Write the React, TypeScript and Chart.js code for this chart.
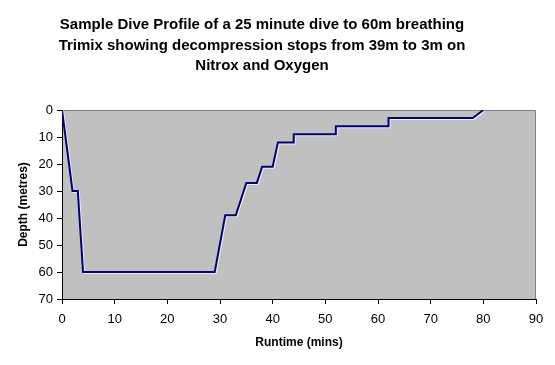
import React, { useEffect, useRef } from "react";
import { Chart, registerables } from "chart.js";

Chart.register(...registerables);

const runtimeMins = [0, 2, 3, 4, 29, 31, 33, 35, 37, 38, 40, 41, 44, 44, 52, 52, 62, 62, 78, 80];
const depthMetres = [0, 30, 30, 60, 60, 39, 39, 27, 27, 21, 21, 12, 12, 9, 9, 6, 6, 3, 3, 0];
const titleLines = [
  "Sample Dive Profile of a 25 minute dive to 60m breathing",
  "Trimix showing decompression stops from 39m to 3m on",
  "Nitrox and Oxygen",
];
const xAxisTitle = "Runtime (mins)";
const yAxisTitle = "Depth (metres)";

const FONT = "'Liberation Sans', Arial, sans-serif";

const plotBg = {
  id: "plotBg",
  beforeDraw(chart: any) {
    const { ctx, chartArea: a } = chart;
    ctx.save();
    ctx.fillStyle = "#C0C0C0";
    ctx.fillRect(a.left, a.top, a.right - a.left, a.bottom - a.top);
    ctx.strokeStyle = "#808080";
    ctx.lineWidth = 1;
    ctx.beginPath();
    ctx.moveTo(a.left, a.top + 0.5);
    ctx.lineTo(a.right - 0.5, a.top + 0.5);
    ctx.lineTo(a.right - 0.5, a.bottom);
    ctx.stroke();
    // title
    ctx.fillStyle = "#000";
    ctx.font = `bold 15px ${FONT}`;
    ctx.textAlign = "center";
    ctx.textBaseline = "middle";
    titleLines.forEach((line, i) => {
      ctx.fillText(line, 262, 25 + i * 20.5);
    });
    ctx.restore();
  },
};

const shadow = {
  id: "shadow",
  beforeDatasetDraw(chart: any) {
    const ctx = chart.ctx;
    ctx.save();
    ctx.shadowColor = "#F4F0D8";
    ctx.shadowOffsetX = 1;
    ctx.shadowOffsetY = 1;
    ctx.shadowBlur = 0;
  },
  afterDatasetDraw(chart: any) {
    chart.ctx.restore();
  },
};

export default function App() {
  const ref = useRef<HTMLCanvasElement>(null);
  useEffect(() => {
    document.body.style.margin = "0";
    const points = runtimeMins.map((x, i) => ({ x, y: depthMetres[i] }));
    const chart = new Chart(ref.current!, {
      type: "scatter",
      data: {
        datasets: [
          {
            data: points,
            showLine: true,
            borderColor: "#000080",
            borderWidth: 2,
            pointRadius: 0,
            tension: 0,
          },
        ],
      },
      plugins: [plotBg, shadow],
      options: {
        animation: false,
        responsive: false,
        layout: { padding: { left: 0, right: 19, top: 110, bottom: 0 } },
        plugins: {
          legend: { display: false },
          tooltip: { enabled: false },
          title: { display: false },
        },
        scales: {
          x: {
            type: "linear",
            min: 0,
            max: 90,
            ticks: { stepSize: 10, color: "#000", font: { family: FONT, size: 13 }, padding: 8 },
            grid: { drawOnChartArea: false, drawTicks: true, tickLength: 5, color: "#000" },
            border: { display: true, color: "#000", width: 1 },
            title: {
              display: true,
              text: xAxisTitle,
              color: "#000",
              font: { family: FONT, size: 12, weight: "bold" },
              padding: { top: 6, bottom: 15 },
            },
            afterFit(s: any) {
              s.height = 66;
            },
          },
          y: {
            type: "linear",
            min: 0,
            max: 70,
            reverse: true,
            ticks: { stepSize: 10, color: "#000", font: { family: FONT, size: 13 }, padding: 4 },
            grid: { drawOnChartArea: false, drawTicks: true, tickLength: 5, color: "#000" },
            border: { display: true, color: "#000", width: 1 },
            title: {
              display: true,
              text: yAxisTitle,
              color: "#000",
              font: { family: FONT, size: 12, weight: "bold" },
              padding: { top: 16, bottom: 0 },
            },
            afterFit(s: any) {
              s.width = 62;
            },
          },
        },
      },
    });
    return () => chart.destroy();
  }, []);
  return <canvas ref={ref} width={555} height={365} style={{ display: "block" }} />;
}
